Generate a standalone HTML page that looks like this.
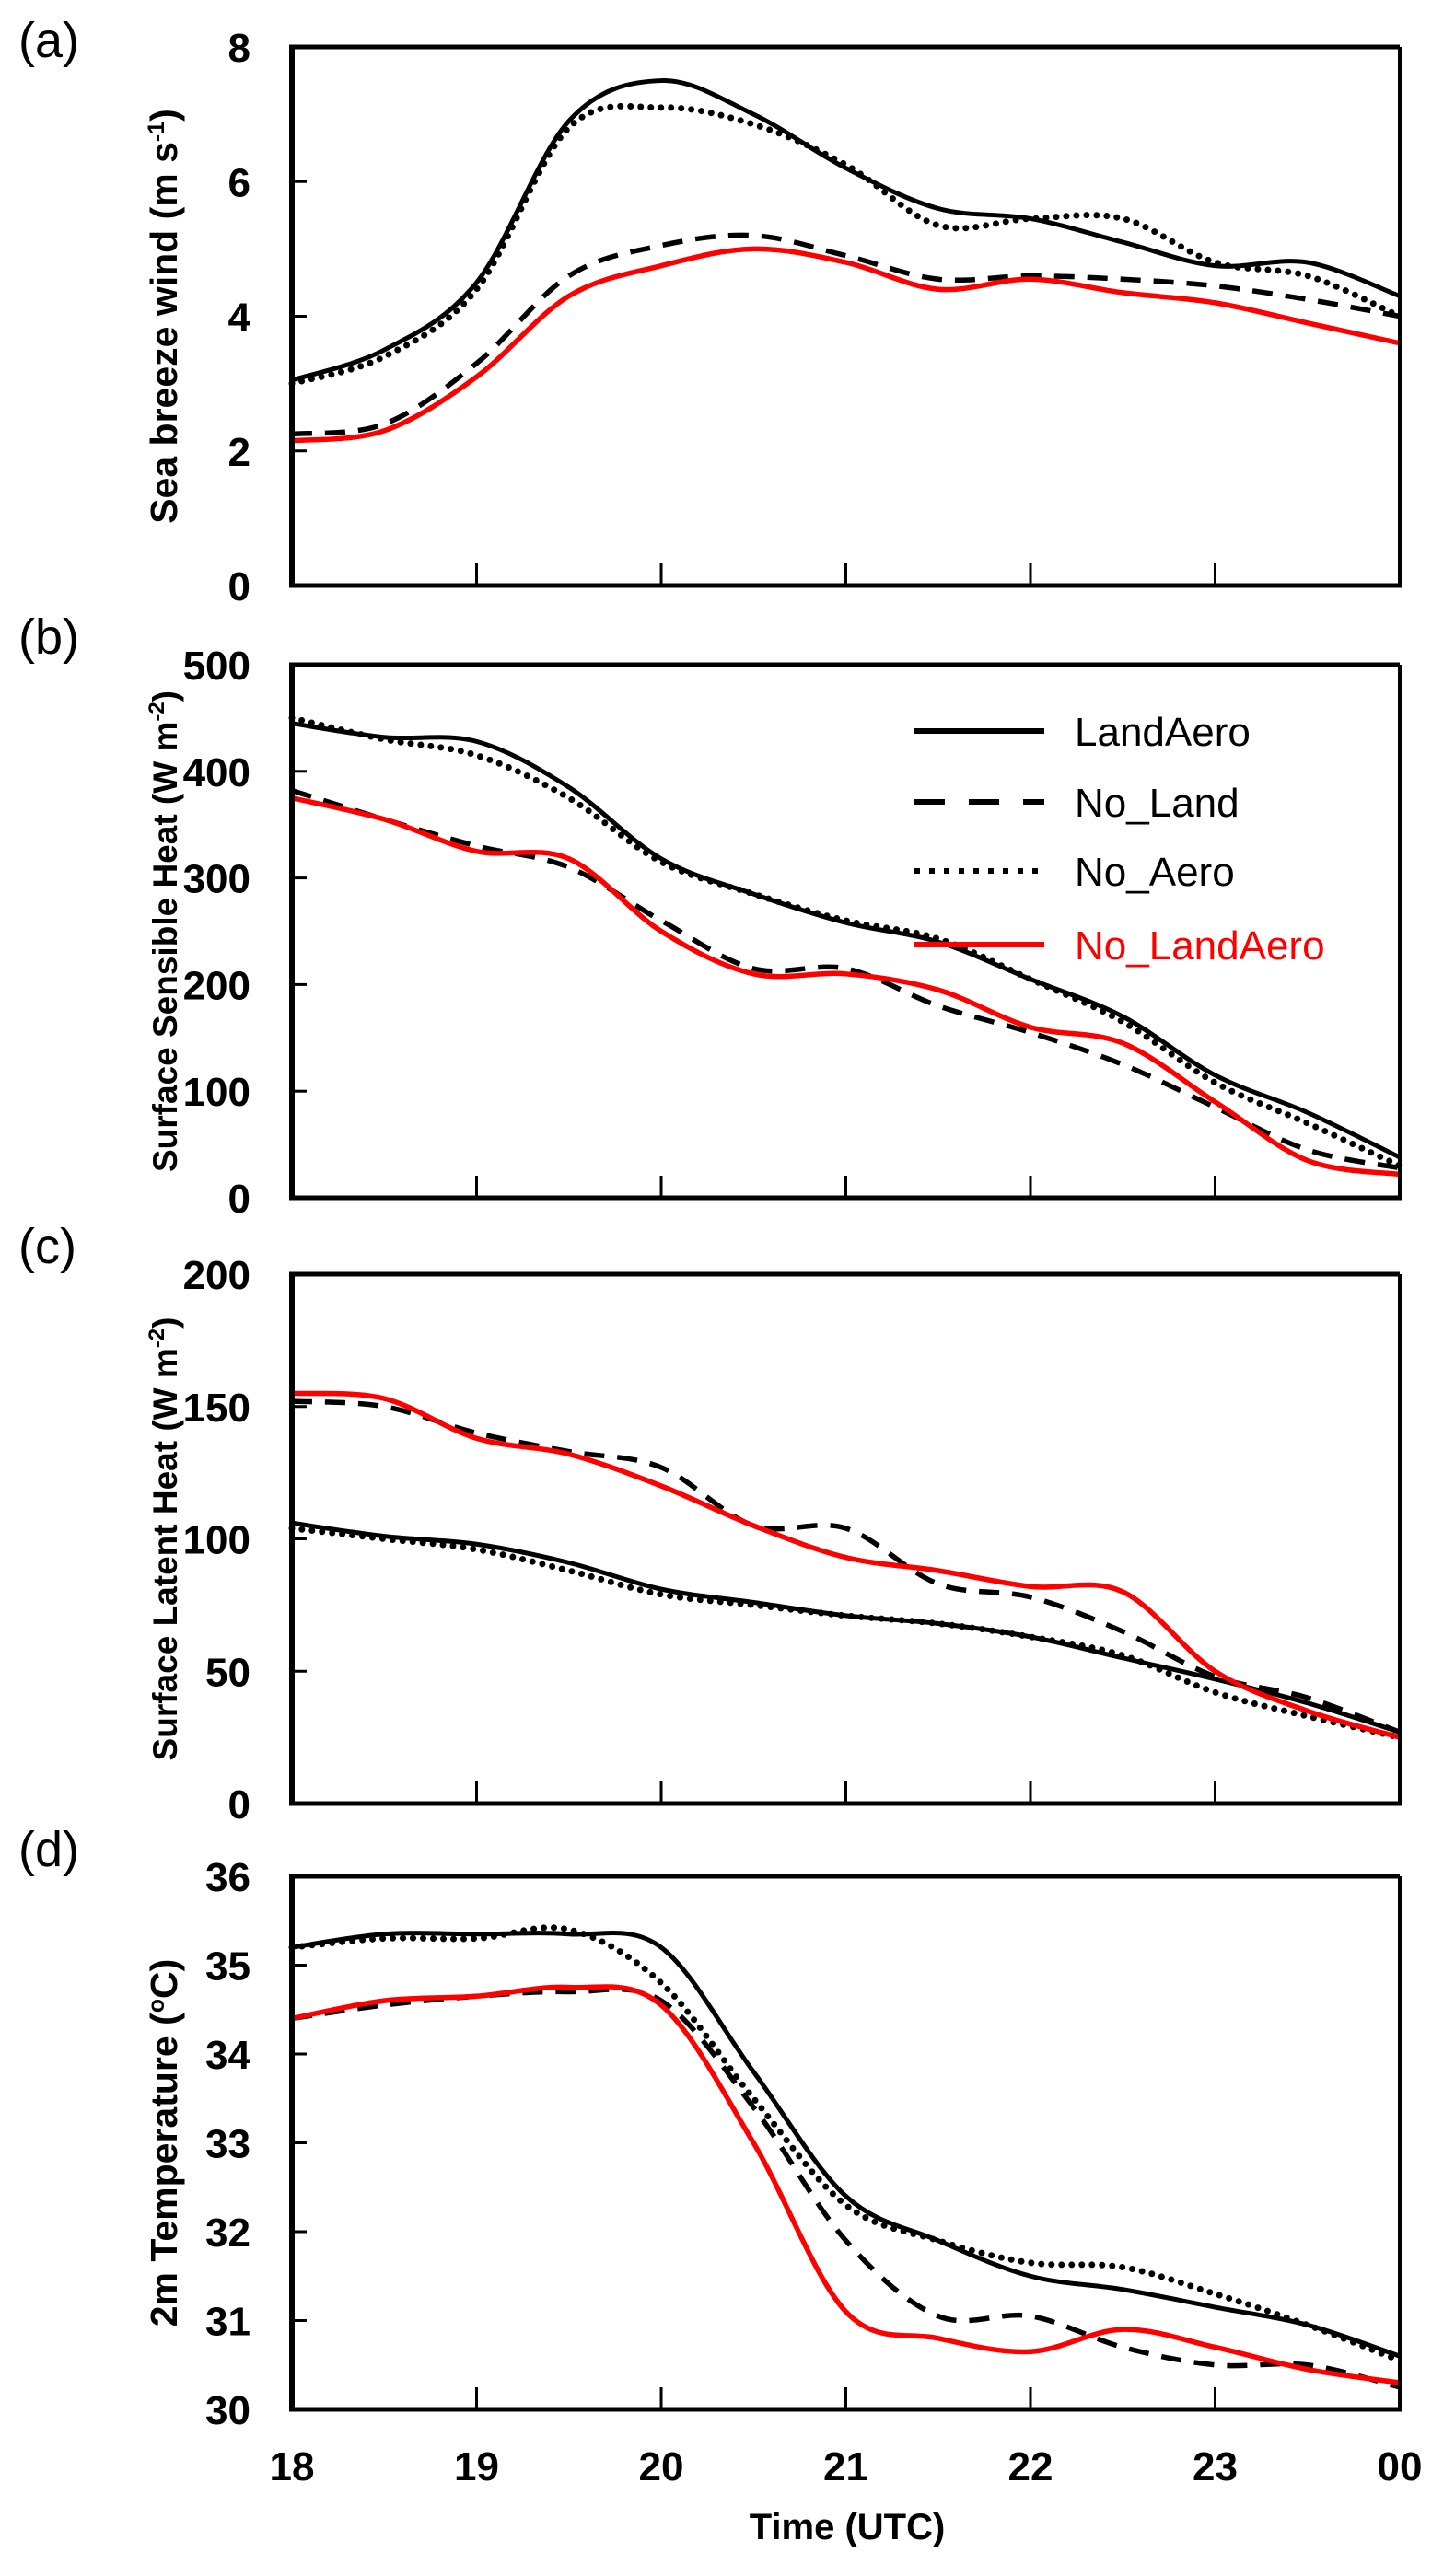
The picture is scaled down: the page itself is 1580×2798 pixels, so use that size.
<!DOCTYPE html>
<html><head><meta charset="utf-8"><style>
body{margin:0;background:#fff}
svg{display:block;font-family:"Liberation Sans",sans-serif}
</style></head><body>
<svg id="chart" width="1580" height="2798" viewBox="0 0 1580 2798" xmlns="http://www.w3.org/2000/svg"></svg>
<script>
const hours = [18,18.5,19,19.5,20,20.5,21,21.5,22,22.5,23,23.5,24];
const xTickLabels = ["18","19","20","21","22","23","00"];
const seriesNames = ["LandAero","No_Land","No_Aero","No_LandAero"];
const windLandAero = [3.05,3.5,4.5,6.9,7.5,7.0,6.2,5.6,5.45,5.1,4.75,4.8,4.3];
const windNoLand = [2.25,2.4,3.3,4.6,5.05,5.2,4.9,4.55,4.6,4.55,4.45,4.25,4.0];
const windNoAero = [3.0,3.4,4.4,6.8,7.1,6.85,6.25,5.35,5.45,5.45,4.8,4.6,4.0];
const windNoLandAero = [2.15,2.3,3.1,4.3,4.75,5.0,4.8,4.4,4.55,4.35,4.2,3.9,3.6];
const shLandAero = [445,432,428,385,318,285,258,240,205,170,115,80,38];
const shNoLand = [382,355,330,310,260,215,215,180,155,125,85,45,28];
const shNoAero = [450,430,415,375,315,285,260,243,205,165,108,70,30];
const shNoLandAero = [375,355,325,318,250,210,210,195,160,145,90,35,22];
const lhLandAero = [106,101,98,91,81,76,71,68,63,55,47,38,27];
const lhNoLand = [152,150,140,133,127,105,104,83,78,65,48,40,27];
const lhNoAero = [104,100,96,88,79,75,71,68,63,56,42,33,25];
const lhNoLandAero = [155,153,138,132,120,105,93,88,82,80,50,35,25];
const tLandAero = [35.2,35.35,35.35,35.35,35.2,33.8,32.4,31.9,31.5,31.35,31.15,30.95,30.6];
const tNoLand = [34.4,34.55,34.65,34.7,34.6,33.4,31.9,31.05,31.05,30.7,30.5,30.5,30.25];
const tNoAero = [35.2,35.3,35.3,35.4,34.8,33.5,32.3,31.9,31.65,31.6,31.3,30.95,30.55];
const tNoLandAero = [34.4,34.6,34.65,34.75,34.55,33.0,31.1,30.8,30.65,30.9,30.7,30.45,30.3];
const windTicks = [0,2,4,6,8];
const shTicks = [0,100,200,300,400,500];
const lhTicks = [0,50,100,150,200];
const tTicks = [30,31,32,33,34,35,36];

const NS="http://www.w3.org/2000/svg";
const svg=document.getElementById('chart');
function mk(tag,attrs,parent){const e=document.createElementNS(NS,tag);for(const k in attrs)e.setAttribute(k,attrs[k]);(parent||svg).appendChild(e);return e;}
const X0=317,X1=1520;
const xScale=h=>X0+(h-18)/6*(X1-X0);
const styles=[
 {stroke:"#000",dash:null,w:5,cap:"butt"},
 {stroke:"#000",dash:"22 14",w:5.5,cap:"butt"},
 {stroke:"#000",dash:"0 11",w:7,cap:"round"},
 {stroke:"#f00",dash:null,w:5.5,cap:"butt"}];
function smoothPath(pts){
 let d=`M${pts[0][0]},${pts[0][1]}`;
 for(let i=0;i<pts.length-1;i++){
  const p0=pts[Math.max(0,i-1)],p1=pts[i],p2=pts[i+1],p3=pts[Math.min(pts.length-1,i+2)];
  const c1=[p1[0]+(p2[0]-p0[0])/6,p1[1]+(p2[1]-p0[1])/6];
  const c2=[p2[0]-(p3[0]-p1[0])/6,p2[1]-(p3[1]-p1[1])/6];
  d+=` C${c1[0]},${c1[1]} ${c2[0]},${c2[1]} ${p2[0]},${p2[1]}`;}
 return d;}
function panel(cfg){
 const g=mk('g',{});
 
 
 const yS=v=>cfg.bot-(v-cfg.min)/(cfg.max-cfg.min)*(cfg.bot-cfg.top);
 cfg.series.forEach((arr,si)=>{
  const s=styles[si];
  const p=mk('path',{d:smoothPath(arr.map((v,i)=>[xScale(hours[i]),yS(v)])),fill:"none",stroke:s.stroke,"stroke-width":s.w,"stroke-linecap":s.cap,"stroke-linejoin":"round"},g);
  if(s.dash)p.setAttribute('stroke-dasharray',s.dash);
  
  
 });
 const fr=mk('g',{},g);
 
 
 mk('line',{x1:X0-3,y1:cfg.top,x2:X1,y2:cfg.top,stroke:"#000","stroke-width":5},fr);
 mk('line',{x1:X1,y1:cfg.top,x2:X1,y2:cfg.bot,stroke:"#000","stroke-width":4},fr);
 mk('line',{x1:X0-3,y1:cfg.bot,x2:X1+2,y2:cfg.bot,stroke:"#000","stroke-width":5},fr);
 mk('line',{x1:X0,y1:cfg.top-2,x2:X0,y2:cfg.bot+2,stroke:"#000","stroke-width":6},fr);
 cfg.ticks.forEach(v=>{
  const y=yS(v);
  mk('line',{x1:X0,y1:y,x2:X0+16,y2:y,stroke:"#000","stroke-width":3},fr);
  const t=mk('text',{x:272,y:y+16,"text-anchor":"end","font-size":44,"font-weight":"bold"},g);
  t.textContent=v;
  
  
 });
 for(let h=19;h<24;h++){const x=xScale(h);mk('line',{x1:x,y1:cfg.bot,x2:x,y2:cfg.bot-24,stroke:"#000","stroke-width":3},fr);}
 const cy=(cfg.top+cfg.bot)/2;
 const ti=mk('text',{x:0,y:0,transform:`translate(192,${cy}) rotate(-90)`,"text-anchor":"middle","font-size":cfg.tsize,"font-weight":"bold"},g);
 ti.innerHTML=cfg.title;
 
 
 const pl=mk('text',{x:20,y:cfg.letterY,"font-size":54},g);
 pl.textContent=cfg.letter;
 
 
}
panel({key:"a",name:"panel-a-sea-breeze",top:51,bot:636,min:0,max:8,ticks:windTicks,letter:"(a)",letterY:62,tsize:41,
 title:'Sea breeze wind (m s<tspan dy="-14" font-size="25">-1</tspan><tspan dy="14">)</tspan>',
 series:[windLandAero,windNoLand,windNoAero,windNoLandAero]});
panel({key:"b",name:"panel-b-sensible-heat",top:722,bot:1301,min:0,max:500,ticks:shTicks,letter:"(b)",letterY:710,tsize:37,
 title:'Surface Sensible Heat (W m<tspan dy="-14" font-size="24">-2</tspan><tspan dy="14">)</tspan>',
 series:[shLandAero,shNoLand,shNoAero,shNoLandAero]});
panel({key:"c",name:"panel-c-latent-heat",top:1384,bot:1959,min:0,max:200,ticks:lhTicks,letter:"(c)",letterY:1372,tsize:37,
 title:'Surface Latent Heat (W m<tspan dy="-14" font-size="24">-2</tspan><tspan dy="14">)</tspan>',
 series:[lhLandAero,lhNoLand,lhNoAero,lhNoLandAero]});
panel({key:"d",name:"panel-d-temperature",top:2038,bot:2617,min:30,max:36,ticks:tTicks,letter:"(d)",letterY:2027,tsize:41,
 title:'2m Temperature (<tspan dy="-14" font-size="25">o</tspan><tspan dy="14">C)</tspan>',
 series:[tLandAero,tNoLand,tNoAero,tNoLandAero]});
xTickLabels.forEach((l,i)=>{
 const t=mk('text',{x:xScale(18+i),y:2694,"text-anchor":"middle","font-size":44,"font-weight":"bold"});
 t.textContent=l;
 
 
});
const xt=mk('text',{x:920,y:2758,"text-anchor":"middle","font-size":40,"font-weight":"bold"});
xt.textContent="Time (UTC)";


const legY=[794,871,946,1026];
const leg=mk('g',{});


seriesNames.forEach((n,i)=>{
 const s=styles[i];
 const l=mk('line',{x1:993,y1:legY[i],x2:1134,y2:legY[i],stroke:s.stroke,"stroke-width":6},leg);
 if(i===1)l.setAttribute('stroke-dasharray','33 26');
 if(i===2)l.setAttribute('stroke-dasharray','6 10');
 
 
 const t=mk('text',{x:1167,y:legY[i]+16,"font-size":44,fill:i===3?"#f00":"#000"},leg);
 t.textContent=n;
 
 
});
</script>
</body></html>
